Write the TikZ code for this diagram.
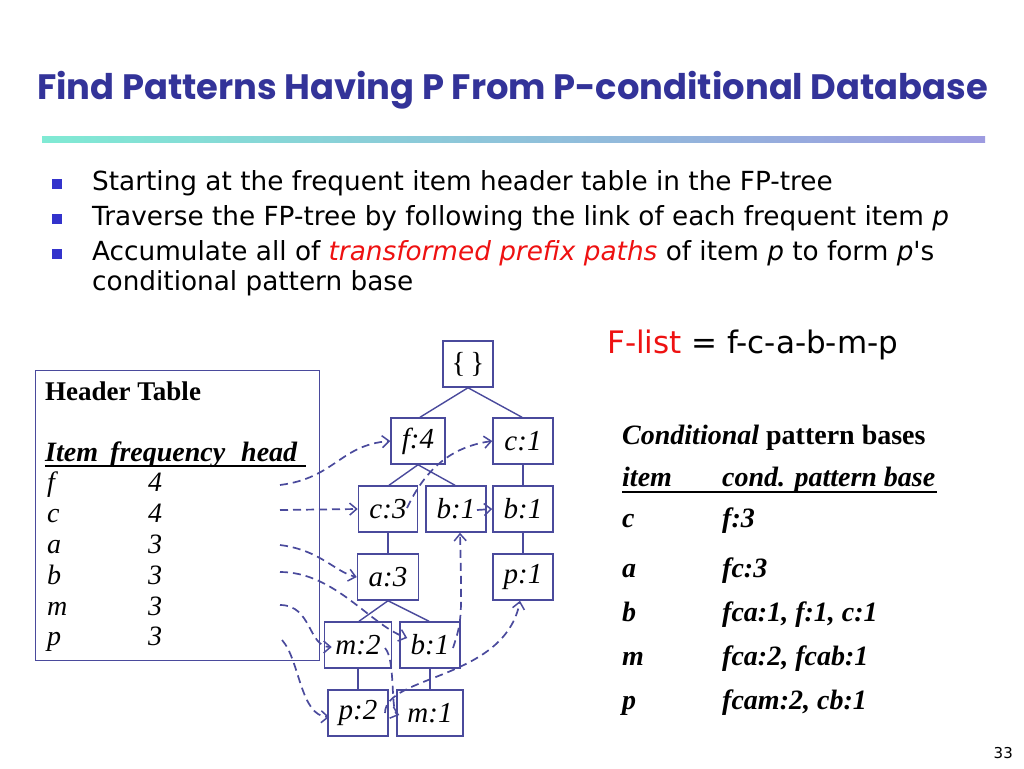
\documentclass[tikz,border=0pt]{standalone}
\usepackage{fontspec}
\setmainfont{Liberation Serif}
\newfontfamily\tah{DejaVu Sans}
\newfontfamily\ttl{Poppins}
\usetikzlibrary{arrows.meta,calc}
\definecolor{boxc}{HTML}{4A4A9C}
\definecolor{titlec}{HTML}{333399}
\definecolor{bulc}{HTML}{3333CC}
\definecolor{barL}{HTML}{80EAD4}
\definecolor{barR}{HTML}{9D9BE0}
\definecolor{redc}{HTML}{EE1111}
\tikzset{
  tbox/.style={draw=boxc, line width=1.5pt, minimum height=46pt, inner sep=0pt, fill=white,
    font=\fontsize{29}{29}\selectfont\itshape},
  tedge/.style={draw=boxc, line width=1.4pt},
  link/.style={draw=boxc, line width=1.7pt, dash pattern=on 8pt off 5pt,
    -{Straight Barb[length=7pt,width=12pt,line width=1.5pt]}},
  bul/.style={fill=bulc, minimum size=9.5pt, inner sep=0pt},
  btxt/.style={anchor=base west, inner sep=0pt, font=\tah\fontsize{26.3}{30}\selectfont},
  htxt/.style={anchor=base west, inner sep=0pt, font=\fontsize{28}{28}\selectfont\itshape},
  rtxt/.style={anchor=base west, inner sep=0pt, font=\fontsize{28}{28}\selectfont\bfseries\itshape},
}
\begin{document}
\begin{tikzpicture}[x=1pt,y=-1pt]
\useasboundingbox (0,0) rectangle (1024,768);
% title
\node[anchor=base west, inner sep=0pt, text=titlec, font=\ttl\bfseries\fontsize{35.3}{36}\selectfont] (title) at (37,99) {Find Patterns Having P From P-conditional Database};
\shade[left color=barL, right color=barR] (42,136) rectangle (985,142);
% bullets
\node[bul] (b1) at (57,184) {};
\node[bul] (b2) at (57,219) {};
\node[bul] (b3) at (57,254) {};
\node[btxt] (t1) at (92,190) {Starting at the frequent item header table in the FP-tree};
\node[btxt] (t2) at (92,225) {Traverse the FP-tree by following the link of each frequent item \textit{p}};
\node[btxt] (t3) at (92,260) {Accumulate all of \textcolor{redc}{\textit{transformed prefix paths}} of item \textit{p} to form \textit{p}'s};
\node[btxt] (t4) at (92,290) {conditional pattern base};
% F-list
\node[anchor=base west, inner sep=0pt, font=\tah\fontsize{31}{31}\selectfont] (flist) at (607,353) {\textcolor{redc}{F-list} = f-c-a-b-m-p};
% header table
\node[draw=boxc, line width=1.4pt, minimum width=284pt, minimum height=290pt, anchor=north west, inner sep=0pt] (ht) at (35,370) {};
\node[anchor=base west, inner sep=0pt, font=\fontsize{27}{27}\selectfont\bfseries] (hth) at (45,400) {Header Table};
\node[htxt, font=\fontsize{28}{28}\selectfont\bfseries\itshape] (hi) at (45,461) {Item};
\node[htxt, font=\fontsize{28}{28}\selectfont\bfseries\itshape] (hf) at (110,461) {frequency};
\node[htxt, font=\fontsize{28}{28}\selectfont\bfseries\itshape] (hh) at (241,461) {head};
\draw[line width=1.6pt] (45,466) -- (306,466);
\foreach \l/\v/\y [count=\i] in {f/4/491, c/4/522, a/3/553, b/3/584, m/3/615, p/3/645}{
  \node[htxt] (hl\i) at (47,\y) {\l};
  \node[htxt] (hv\i) at (148,\y) {\v};
}
% tree nodes
\node[tbox, minimum width=50pt] (root) at (468,364) {\upshape\{\,\}};
\node[tbox, minimum width=54pt] (f4) at (418,441) {f:4};
\node[tbox, minimum width=60pt] (c1) at (523,441) {c:1};
\node[tbox, minimum width=59pt] (c3) at (388,509) {c:3};
\node[tbox, minimum width=60pt] (b1m) at (456,509) {b:1};
\node[tbox, minimum width=60pt] (b1r) at (523,509) {b:1};
\node[tbox, minimum width=61pt] (a3) at (388,577) {a:3};
\node[tbox, minimum width=60pt] (p1) at (523,577) {p:1};
\node[tbox, minimum width=67pt] (m2) at (358,645) {m:2};
\node[tbox, minimum width=60pt] (b1l) at (430,645) {b:1};
\node[tbox, minimum width=60pt] (p2) at (358,713) {p:2};
\node[tbox, minimum width=66pt] (m1) at (430,713) {m:1};
% tree edges
\draw[tedge] (root.south) -- ($(f4.north)+(2,0)$);
\draw[tedge] (root.south) -- ($(c1.north)+(-1,0)$);
\draw[tedge] (f4.south) -- ($(c3.north)+(1,0)$);
\draw[tedge] (f4.south) -- ($(b1m.north)+(-1,0)$);
\draw[tedge] (c1) -- (b1r);
\draw[tedge] (c3) -- (a3);
\draw[tedge] (b1r) -- (p1);
\draw[tedge] (a3.south) -- ($(m2.north)+(1,0)$);
\draw[tedge] (a3.south) -- ($(b1l.north)+(-1,0)$);
\draw[tedge] (m2) -- (p2);
\draw[tedge] (b1l) -- (m1);
% node links
\coordinate (sf) at (280,485);
\coordinate (sc) at (280,510);
\coordinate (sa) at (280,545);
\coordinate (sb) at (280,572);
\coordinate (sm) at (280,605);
\coordinate (sp) at (282,640);
\draw[link] (sf) .. controls (335,478) and (340,445) .. (f4.west);
\draw[link] (sc) -- (c3.west);
\draw[link] ($(c3.center)+(19,-1)$) .. controls (425,470) and (450,447) .. (c1.west);
\draw[link] ($(b1m.center)+(21,1)$) -- (b1r.west);
\draw[link] (sa) .. controls (320,550) and (335,572) .. (a3.west);
\draw[link] (sb) .. controls (335,572) and (370,625) .. ($(b1l.west)+(8,-7)$);
\draw[link] ($(b1l.center)+(23,3)$) .. controls (462,620) .. ($(b1m.south)+(4,0)$);
\draw[link] (sm) .. controls (312,605) and (308,647) .. ($(m2.west)+(8,2)$);
\draw[link] ($(m2.center)+(27,3)$) .. controls (396,660) and (390,712) .. ($(m1.west)+(3,2)$);
\draw[link] (sp) .. controls (300,660) and (300,716) .. ($(p2.west)+(2,4)$);
\draw[link] ($(p2.center)+(27,0)$) .. controls (385,675) and (505,680) .. ($(p1.south)+(-3,0)$);
% conditional pattern bases
\node[anchor=base west, inner sep=0pt, font=\fontsize{28}{28}\selectfont\bfseries] (cph) at (622,444) {\textit{Conditional} pattern bases};
\node[rtxt] (ci) at (622,486) {item};
\node[rtxt] (cc) at (722,486) {cond. pattern base};
\draw[line width=1.6pt] (622,492) -- (937,492);
\foreach \l/\v/\y [count=\i] in {c/f:3/527, a/fc:3/577, b/{fca:1, f:1, c:1}/621, m/{fca:2, fcab:1}/665, p/{fcam:2, cb:1}/709}{
  \node[rtxt] (rl\i) at (622,\y) {\l};
  \node[rtxt] (rv\i) at (722,\y) {\v};
}
\node[anchor=base east, inner sep=0pt, font=\tah\fontsize{15}{15}\selectfont] (pg) at (1013,758) {33};
\end{tikzpicture}
\end{document}
